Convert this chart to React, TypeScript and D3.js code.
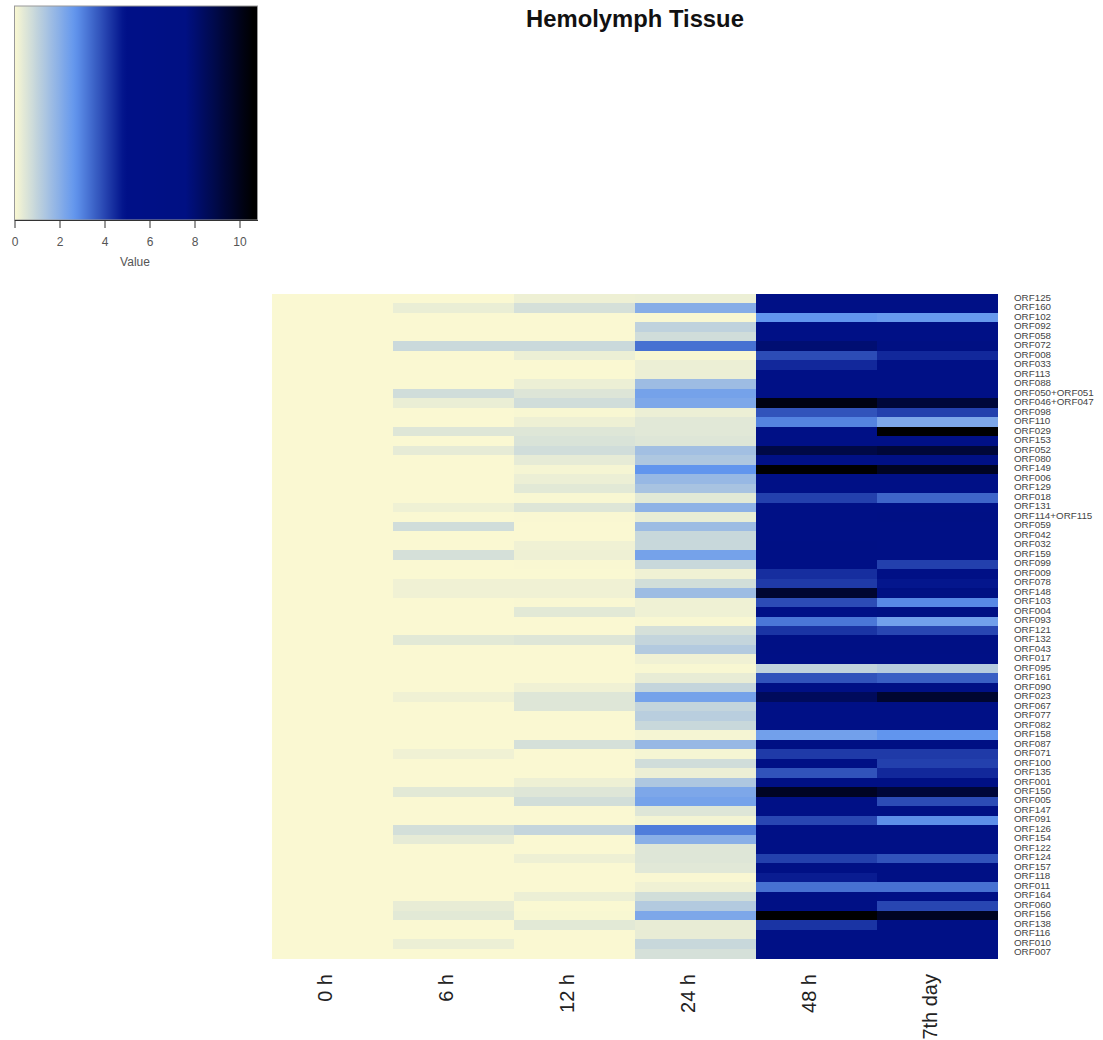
import React, { useEffect, useRef } from 'react'
import * as d3 from 'd3'

const orfs = [
  'ORF125', 'ORF160', 'ORF102', 'ORF092', 'ORF058', 'ORF072', 'ORF008', 'ORF033', 'ORF113', 'ORF088',
  'ORF050+ORF051', 'ORF046+ORF047', 'ORF098', 'ORF110', 'ORF029', 'ORF153', 'ORF052', 'ORF080', 'ORF149', 'ORF006',
  'ORF129', 'ORF018', 'ORF131', 'ORF114+ORF115', 'ORF059', 'ORF042', 'ORF032', 'ORF159', 'ORF099', 'ORF009',
  'ORF078', 'ORF148', 'ORF103', 'ORF004', 'ORF093', 'ORF121', 'ORF132', 'ORF043', 'ORF017', 'ORF095',
  'ORF161', 'ORF090', 'ORF023', 'ORF067', 'ORF077', 'ORF082', 'ORF158', 'ORF087', 'ORF071', 'ORF100',
  'ORF135', 'ORF001', 'ORF150', 'ORF005', 'ORF147', 'ORF091', 'ORF126', 'ORF154', 'ORF122', 'ORF124',
  'ORF157', 'ORF118', 'ORF011', 'ORF164', 'ORF060', 'ORF156', 'ORF138', 'ORF116', 'ORF010', 'ORF007',
]
const times = ['0 h', '6 h', '12 h', '24 h', '48 h', '7th day']

// same order as orfs
const h0 = orfs.map(() => 0)
const h6 = [
  0, .28, 0, 0, 0, .85, 0, 0, 0, 0,
  .75, .28, 0, 0, .5, 0, .35, 0, 0, 0,
  0, 0, .2, 0, .75, 0, 0, .65, 0, 0,
  .18, .18, 0, 0, 0, 0, .42, 0, 0, 0,
  0, 0, .18, 0, 0, 0, 0, 0, .18, 0,
  0, 0, .42, 0, 0, 0, .68, .35, 0, 0,
  0, 0, 0, 0, .32, .42, 0, 0, .25, 0,
]
const h12 = [
  .22, .65, 0, 0, 0, .85, .25, 0, 0, .25,
  .52, .75, .04, .22, .5, .58, .75, .35, .08, .25,
  .42, .04, .5, .02, 0, 0, .18, .22, .02, 0,
  .18, .18, .02, .42, 0, 0, .5, 0, 0, 0,
  0, .18, .5, .5, 0, 0, 0, .65, 0, 0,
  0, .22, .5, .72, 0, 0, .95, 0, 0, .22,
  0, 0, 0, .25, 0, .03, .42, 0, 0, 0,
]
const h24 = [
  .25, 2.05, .04, 1.05, .75, 3.3, .04, .25, .25, 1.65,
  2.35, 2.2, .25, .45, .45, .5, 1.55, 1.35, 2.7, 1.75,
  1.45, .42, 1.9, .3, 1.65, .88, .88, 2.35, .88, .18,
  .72, 1.65, .2, .2, .04, .65, .95, 1.25, .18, .04,
  .32, .95, 2.35, .95, 1.15, .88, .08, 1.75, .08, .75,
  .25, 1.35, 2.2, 2.35, .5, .12, 3.1, 2, .5, .5,
  .45, .02, .18, .72, 1.25, 2.2, .32, .32, .88, .65,
]
const h48 = [
  6, 6, 2.7, 6, 6, 8, 3.9, 4.5, 6, 6,
  6, 10.2, 3.8, 3, 6, 6, 9, 6.5, 10.7, 6,
  6, 4.1, 6, 6, 6, 6, 6.5, 6, 6, 4.4,
  4.2, 9.5, 3.9, 6, 3.2, 4.3, 6.5, 6.5, 6, 1,
  3.8, 6.5, 8.5, 6, 6, 6, 2.4, 7, 4.2, 6,
  3.8, 6.5, 9.8, 6, 6, 4, 6, 6, 6, 4.1,
  6.5, 4.7, 3.3, 6.5, 6.5, 10.7, 4.3, 6, 6, 6,
]
const d7 = [
  6, 6, 2.6, 6, 6, 7.5, 4.5, 6, 6, 6,
  6, 9.3, 4.1, 2.2, 10.7, 6, 9.3, 6.5, 9.8, 6,
  6, 3.5, 6, 6.5, 6, 6, 6, 6, 4.1, 6,
  4.8, 7.5, 2.9, 7, 2.4, 4, 6.5, 6.5, 6, 1.2,
  3.6, 6.5, 9.5, 6, 6, 6, 2.7, 7, 4.2, 4.1,
  4.5, 6.5, 9.3, 3.9, 6.5, 2.8, 6, 6, 6, 3.8,
  6.5, 6.5, 3.3, 6, 4, 9.8, 6, 6, 6, 6,
]
const series = [h0, h6, h12, h24, h48, d7]

const legendTicks = [0, 2, 4, 6, 8, 10]
const colorValues = [0, 2.7, 4.9, 7.6, 10.6]
const colorRange = ['#faf8d2', '#6195ee', '#001088', '#001083', '#000000']

const color = d3.scaleLinear<string>().domain(colorValues).range(colorRange).clamp(true)
const FONT = '"Liberation Sans", Arial, sans-serif'

function App() {
  const width = 1103,
    height = 1040
  const heat = { left: 272, right: 998, top: 294, bottom: 958 }
  const legend = { left: 14.5, right: 257.5, top: 6, bottom: 220 }

  const x = d3.scaleBand<string>().domain(times).range([heat.left, heat.right])
  const y = d3.scaleBand<string>().domain(orfs).range([heat.top, heat.bottom])
  const legendX = d3.scaleLinear().domain([0, 10.8]).range([legend.left, legend.right])

  const gradStops = d3.range(0, 10.81, 0.2)

  const axisRef = useRef<SVGGElement>(null)
  useEffect(() => {
    const g = d3.select(axisRef.current!)
    g.call(d3.axisBottom(legendX).tickValues(legendTicks).tickSizeInner(8).tickSizeOuter(0).tickPadding(9) as any)
    g.selectAll('.domain').attr('stroke', '#333')
    g.selectAll('.tick line').attr('stroke', '#333')
    g.selectAll('text').attr('font-family', FONT).attr('font-size', 12).attr('fill', '#555')
  }, [])

  return (
    <svg width={width} height={height} style={{ position: 'absolute', left: 0, top: 0, background: '#fff' }}>
      <defs>
        <linearGradient id="legendGrad" x1="0" x2="1" y1="0" y2="0">
          {gradStops.map(v => (
            <stop key={v} offset={v / 10.8} stopColor={color(v)} />
          ))}
        </linearGradient>
      </defs>

      <text x={635} y={27} textAnchor="middle" fontFamily={FONT} fontWeight="bold" fontSize={23.8} fill="#111">
        Hemolymph Tissue
      </text>

      {/* colour key */}
      <rect
        x={legend.left}
        y={legend.top}
        width={legend.right - legend.left}
        height={legend.bottom - legend.top}
        fill="url(#legendGrad)"
        stroke="#999"
        strokeWidth={1}
      />
      <g ref={axisRef} transform={`translate(0,${legend.bottom})`} />
      <text x={135} y={266} textAnchor="middle" fontFamily={FONT} fontSize={12} fill="#555">
        Value
      </text>

      {/* heatmap */}
      <g shapeRendering="crispEdges">
        {series.map((vals, c) =>
          vals.map((v, r) => (
            <rect
              key={`${c}-${r}`}
              x={x(times[c])}
              y={y(orfs[r])}
              width={x.bandwidth()}
              height={y.bandwidth() + 0.5}
              fill={color(v)}
            />
          ))
        )}
      </g>

      {orfs.map(o => (
        <text
          key={o}
          x={1014}
          y={y(o)! + y.bandwidth() / 2 + 2}
          fontFamily={FONT}
          fontSize={9.8}
          fill="#444"
        >
          {o}
        </text>
      ))}

      {times.map(t => (
        <text
          key={t}
          transform={`translate(${x(t)! + x.bandwidth() / 2 - 1},974) rotate(-90)`}
          textAnchor="end"
          fontFamily={FONT}
          fontSize={20}
          fill="#222"
        >
          {t}
        </text>
      ))}
    </svg>
  )
}

export default App
